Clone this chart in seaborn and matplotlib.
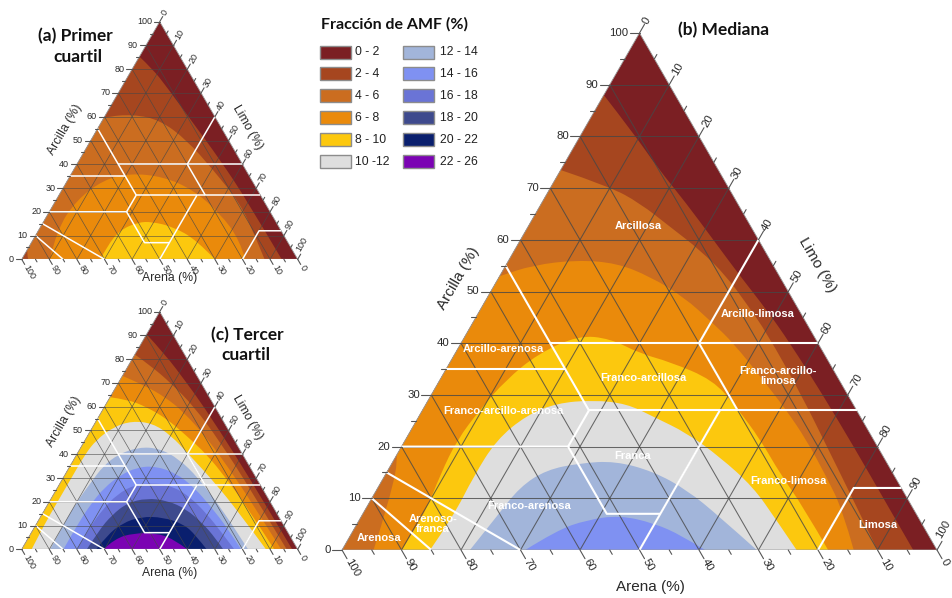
import numpy as np
import matplotlib
matplotlib.use("Agg")
import matplotlib.pyplot as plt
from matplotlib.path import Path
from matplotlib.patches import PathPatch, Polygon, Rectangle
import seaborn as sns

# ---------------------------------------------------------------- data
AMF_CLASES = ["0 - 2", "2 - 4", "4 - 6", "6 - 8", "8 - 10", "10 -12",
              "12 - 14", "14 - 16", "16 - 18", "18 - 20", "20 - 22", "22 - 26"]
AMF_COLORES = ["#7b1f23", "#a6461f", "#cb6d20", "#ea8a0b", "#fcc80e", "#dedede",
               "#a2b5da", "#7f91f2", "#6a74d6", "#3e4a8d", "#0a1f6e", "#7b03b3"]

EJE_VALORES = list(range(0, 101, 10))

# AMF contour limits: level -> (arena %, arcilla %) points along the limit
PRIMER_CUARTIL = {
    2: [(14.7, 85.3), (12.5, 80), (11.2, 72.7), (9.2, 57.2), (7.2, 41.8), (6.0, 25), (5.8, 0)],
    4: [(97.6, 0), (97, 3.5), (80, 30), (55, 55), (40, 60), (29, 61), (20.6, 58.6),
        (15.1, 50.2), (11.8, 37.6), (9.1, 23.6), (10.5, 10), (12, 0)],
    6: [(89.8, 0), (81.2, 12.3), (67.6, 25), (53.7, 33.4), (42.7, 36.2), (31.3, 34.8),
        (23.2, 29.2), (18.5, 19.4), (16.9, 8.1), (19, 0)],
    8: [(71.5, 0), (66.5, 5.3), (58.3, 12.3), (50, 15.6), (45, 15.8), (38.3, 13.7),
        (32.6, 8.1), (30, 0)],
}

MEDIANA = {
    2: [(12, 88), (10.7, 80.6), (10, 74), (8.6, 67), (7.6, 60), (6.6, 53), (5.4, 46.4),
        (4.7, 40), (4.2, 30), (4, 20), (4, 10), (4, 0)],
    4: [(26.5, 73.5), (19.9, 70.3), (16.4, 67.1), (13.6, 62.5), (10.8, 58), (8.9, 52.9),
        (8.2, 47.7), (7.6, 42), (7.8, 30), (8.5, 20), (9.2, 10), (10, 0)],
    6: [(94.7, 0), (86.9, 10), (80.5, 19.5), (78, 30), (62, 48), (47, 53), (40.3, 55.1),
        (32.5, 56.1), (26.1, 55.5), (21.8, 52.9), (18.1, 49), (15.7, 43.8), (14.2, 40),
        (12.8, 32.9), (11.8, 27.1), (11.3, 21.3), (11.5, 14.2), (12, 7.7), (14, 0)],
    8: [(90, 0), (83, 6.5), (76, 14.8), (70, 21.3), (63.3, 27.1), (56, 32.9), (48, 38),
        (39.5, 41.5), (34.5, 40.9), (30.9, 38), (26.7, 36.4), (21.2, 32.9), (19.9, 27.7),
        (19, 21.3), (19, 14.8), (18.3, 8.4), (18.3, 0)],
    10: [(85.2, 0), (78.1, 6.45), (70.8, 14.2), (63.4, 21.3), (55.9, 26.1), (49.7, 28.4),
         (43.3, 29), (38, 28.3), (34.8, 25.8), (30.7, 22.6), (27.5, 18), (24.8, 12.2),
         (24.1, 5.8), (23.6, 0)],
    12: [(78.5, 0), (70.8, 6.45), (64, 12.2), (57.9, 15.5), (51.6, 16.8), (45.5, 17.2),
         (40.1, 15.2), (36.2, 11.6), (33.3, 6.4), (30.3, 0)],
    14: [(69.2, 0), (62, 3.8), (56, 5.8), (50, 6.7), (45, 5.2), (41.5, 2.8), (39, 0)],
}

TERCER_CUARTIL = {
    2: [(9.5, 90.5), (7, 82), (5.2, 70), (4, 60), (2.8, 40), (2.3, 20), (2, 0)],
    4: [(18, 82), (14.5, 77), (11, 70), (7.5, 60), (5.5, 45), (4.5, 25), (4, 0)],
    6: [(27, 73), (21, 69), (16, 64), (12.5, 58), (9.5, 47), (8, 35), (6.8, 20), (6, 0)],
    8: [(36, 64), (30, 63), (25, 60), (20, 55), (16.5, 48), (13, 40), (11, 30), (9.5, 18),
        (8.5, 0)],
    10: [(96.4, 0), (87, 10), (77, 20), (67, 30), (57, 40), (50, 46), (41, 51.5), (33, 54),
         (26, 53), (22, 48), (19.5, 40), (16, 28), (13.5, 15), (11.5, 0)],
    12: [(89.7, 0), (80, 10), (70, 20), (61, 28), (53, 35), (45, 40), (36, 43), (29, 42.5),
         (24, 38), (21, 30), (19.5, 20), (18.5, 10), (18, 0)],
    14: [(84.9, 0), (75, 10), (65.5, 19), (57, 26), (49, 31), (41, 34.5), (34, 35), (28, 32),
         (24.5, 26), (22.5, 18), (21, 9), (20.5, 0)],
    16: [(80, 0), (71, 9), (62, 17), (54, 23), (46, 27), (38, 28), (32, 26.5), (28, 22),
         (25.5, 15), (24, 7), (23, 0)],
    18: [(76.4, 0), (68, 8), (60, 14.5), (52, 19.5), (44, 21.5), (37, 20.5), (32, 17),
         (29, 11), (27.5, 5), (27, 0)],
    20: [(73, 0), (66, 6), (58, 11), (50, 13.7), (42, 13.5), (36, 10.5), (34, 6), (33, 0)],
    22: [(70.4, 0), (64, 4.5), (56, 6.8), (48, 6.8), (43, 4.5), (40, 0)],
}

# USDA texture-class limits, (arena %, arcilla %) polylines
LIMITES_TEXTURA = [
    [(85, 0), (90, 10)],
    [(70, 0), (85, 15)],
    [(80, 20), (52, 20), (52, 7), (43, 7)],
    [(50, 0), (23, 27)],
    [(52, 20), (45, 27)],
    [(45, 27), (0, 27)],
    [(45, 27), (45, 55)],
    [(65, 35), (45, 35)],
    [(45, 40), (0, 40)],
    [(20, 27), (20, 40)],
    [(20, 40), (0, 60)],
    [(20, 0), (8, 12), (0, 12)],
]

CLASES_TEXTURA = ["Arcillosa", "Arcillo-limosa", "Arcillo-arenosa", "Franco-arcillosa",
                  "Franco-arcillo-\nlimosa", "Franco-arcillo-arenosa", "Franca",
                  "Franco-limosa", "Franco-arenosa", "Arenoso-\nfranca", "Arenosa", "Limosa"]

# ---------------------------------------------------------------- style
sns.set_theme(style="white")
plt.rcParams["font.family"] = ["Liberation Sans", "DejaVu Sans"]
TITLE_FONT = ["Lato", "DejaVu Sans"]
W, H = 952, 598
SQ3 = np.sqrt(3) / 2


def tern(arena, arcilla):
    arena = np.asarray(arena, float)
    arcilla = np.asarray(arcilla, float)
    return 100.0 - arena - arcilla / 2.0, arcilla * SQ3


def band_path(points):
    """Closed region lying below/inside a smooth contour limit."""
    ar, ac = zip(*points)
    xs, ys = tern(ar, ac)
    n = len(xs)
    start = (xs[0], -60.0) if ac[0] < 0.5 else (xs[0] - 300.0, ys[0])
    end = (xs[-1], -60.0) if ac[-1] < 0.5 else (xs[-1] + 300.0, ys[-1])
    verts = [start, (xs[0], ys[0])]
    codes = [Path.MOVETO, Path.LINETO]
    for i in range(1, n - 1):
        verts.append((xs[i], ys[i]))
        if i < n - 2:
            verts.append(((xs[i] + xs[i + 1]) / 2, (ys[i] + ys[i + 1]) / 2))
        else:
            verts.append((xs[i + 1], ys[i + 1]))
        codes += [Path.CURVE3, Path.CURVE3]
    if n == 2:
        verts.append((xs[1], ys[1]))
        codes.append(Path.LINETO)
    verts += [end, (end[0], -60.0), (start[0], -60.0), start]
    codes += [Path.LINETO, Path.LINETO, Path.LINETO, Path.CLOSEPOLY]
    return Path(verts, codes)


def triangle_axes(fig, left, top, right, bottom):
    ax = fig.add_axes([left / W, 1 - bottom / H, (right - left) / W, (bottom - top) / H])
    ax.set_xlim(0, 100)
    ax.set_ylim(0, 100 * SQ3)
    ax.axis("off")
    return ax, (right - left) / 100.0


def draw_panel(ax, ppu, limites, st):
    tx, ty = tern([100, 0, 0], [0, 0, 100])
    tri = Polygon(np.column_stack([tx, ty]), closed=True, facecolor=AMF_COLORES[0],
                  edgecolor="none", zorder=0)
    ax.add_patch(tri)
    for nivel in sorted(limites):
        patch = PathPatch(band_path(limites[nivel]), facecolor=AMF_COLORES[nivel // 2],
                          edgecolor="none", zorder=1)
        ax.add_patch(patch)
        patch.set_clip_path(tri)

    # triangular grid
    for v in range(10, 100, 10):
        for a, b in (((100 - v, v), (0, v)), ((v, 0), (v, 100 - v)),
                     ((100 - v, 0), (0, 100 - v))):
            x, y = tern([a[0], b[0]], [a[1], b[1]])
            ax.plot(x, y, color="#474747", lw=st["grid_lw"], alpha=0.8, zorder=2)
    ax.plot(np.r_[tx, tx[0]], np.r_[ty, ty[0]], color="#9a9a9a", lw=0.6, zorder=2)

    # texture-class limits
    for linea in LIMITES_TEXTURA:
        ar, ac = zip(*linea)
        x, y = tern(ar, ac)
        ax.plot(x, y, color="white", lw=st["bound_lw"], zorder=3, solid_capstyle="butt")

    # ticks and tick labels on the three sides
    g = st["gap"] / ppu
    tk = dict(color="#555555", lw=0.8, clip_on=False, zorder=3)
    tl = dict(fontsize=st["tick_fs"], color="#2a2a2a", clip_on=False)
    for v in range(0, 101, 5):
        major = v % 10 == 0
        L = (st["major"] if major else st["minor"]) / ppu
        # Arcilla (left side)
        x0, y0 = tern(100 - v, v)
        ax.plot([x0, x0 - L], [y0, y0], **tk)
        if major:
            ax.text(x0 - L - g, y0, str(v), ha="right", va="center", **tl)
        # Arena (bottom side)
        x0, y0 = tern(v, 0)
        dx, dy = 0.5, -SQ3
        ax.plot([x0, x0 + L * dx], [y0, y0 + L * dy], **tk)
        if major:
            ax.text(x0 + (L + g) * dx, y0 + (L + g) * dy, str(v), rotation=-60,
                    rotation_mode="anchor", ha="left", va="center", **tl)
        # Limo (right side)
        x0, y0 = tern(0, 100 - v)
        dx, dy = 0.5, SQ3
        ax.plot([x0, x0 + L * dx], [y0, y0 + L * dy], **tk)
        if major:
            ax.text(x0 + (L + g) * dx, y0 + (L + g) * dy, str(v), rotation=60,
                    rotation_mode="anchor", ha="left",
                    va="bottom" if v == 100 else "center", **tl)


fig = plt.figure(figsize=(W / 100, H / 100), dpi=100)
fig.patch.set_facecolor("white")

small = dict(grid_lw=0.5, bound_lw=1.1, major=6, minor=3, gap=1.8, tick_fs=6.5)
large = dict(grid_lw=0.75, bound_lw=1.5, major=10, minor=5, gap=1.2, tick_fs=8.2)

ax_a, ppu_a = triangle_axes(fig, 21.7, 21.7, 297.7, 259.3)
draw_panel(ax_a, ppu_a, PRIMER_CUARTIL, small)

ax_c, ppu_c = triangle_axes(fig, 21.7, 311.7, 297.7, 549.3)
draw_panel(ax_c, ppu_c, TERCER_CUARTIL, small)

ax_b, ppu_b = triangle_axes(fig, 342, 33, 937, 550)
draw_panel(ax_b, ppu_b, MEDIANA, large)

# texture-class names on the median panel, placed at (arena, arcilla)
pos_clases = [(18.8, 62.7), (7.4, 45.6), (53.4, 38.9), (32.7, 33.2), (10.0, 33.6),
              (59.4, 26.9), (42.0, 18.2), (18.3, 13.4), (64.2, 8.6), (82.2, 5.1),
              (92.7, 2.3), (7.6, 4.8)]
for nombre, (ar, ac) in zip(CLASES_TEXTURA, pos_clases):
    x, y = tern(ar, ac)
    ax_b.text(x, y, nombre, ha="center", va="center", color="white", fontsize=8,
              fontweight="bold", linespacing=1.0, zorder=4)

# ---------------------------------------------------------------- overlay texts
ov = fig.add_axes([0, 0, 1, 1])
ov.set_xlim(0, W)
ov.set_ylim(H, 0)
ov.axis("off")

tt = dict(family=TITLE_FONT, fontweight="bold", fontsize=12.5, color="#111111",
          ha="center", va="center")
ov.text(75, 36.5, "(a) Primer", **tt)
ov.text(78, 57.5, "cuartil", **tt)
ov.text(247.5, 335, "(c) Tercer", **tt)
ov.text(245.5, 355, "cuartil", **tt)
ov.text(678, 30.5, "(b) Mediana", **{**tt, "ha": "left"})

al = dict(color="#2a2a2a", ha="center", va="center")
for (cx, cy), rot, txt, fs in [((65, 130), 60, "Arcilla (%)", 8.8),
                               ((248, 127), -60, "Limo (%)", 8.8),
                               ((170, 278), 0, "Arena (%)", 8.8),
                               ((64, 422), 60, "Arcilla (%)", 8.8),
                               ((248, 417), -60, "Limo (%)", 8.8),
                               ((170, 573), 0, "Arena (%)", 8.8),
                               ((458, 278), 60, "Arcilla (%)", 11),
                               ((817, 265), -60, "Limo (%)", 11),
                               ((650, 587), 0, "Arena (%)", 11)]:
    ov.text(cx, cy, txt, rotation=rot, fontsize=fs, **al)

# legend
ov.text(321, 24.5, "Fracción de AMF (%)", family=TITLE_FONT, fontweight="bold",
        fontsize=11.5, color="#111111", ha="left", va="center")
for i, (lab, col) in enumerate(zip(AMF_CLASES, AMF_COLORES)):
    c, r = divmod(i, 6)
    x0 = (320, 403)[c]
    yc = 52 + r * 21.95
    ov.add_patch(Rectangle((x0, yc - 6.5), 31, 13, facecolor=col, edgecolor="#8c8c8c", lw=1.0))
    ov.text((355, 440)[c], yc, lab, fontsize=8.8, color="#222222", ha="left", va="center")

fig.savefig("out.png", dpi=100)
